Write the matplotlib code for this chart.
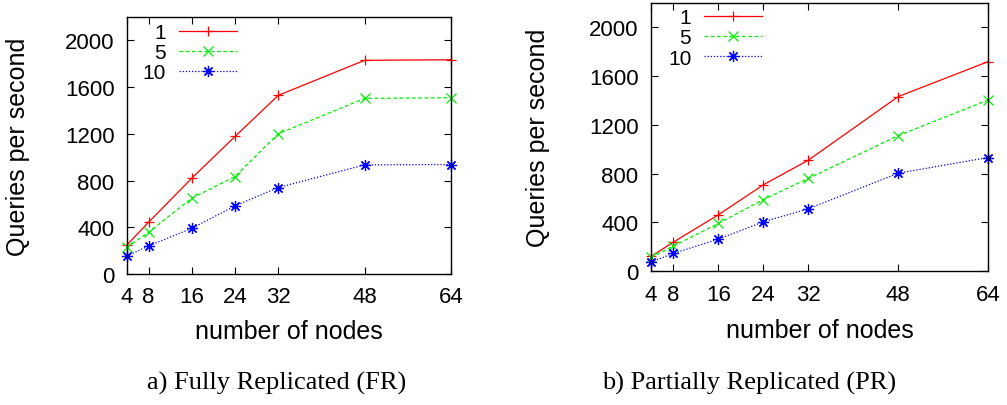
import matplotlib
matplotlib.use("Agg")
import matplotlib.pyplot as plt

# data
nodes = [4, 8, 16, 24, 32, 48, 64]
xtick_labels = ["4", "8", "16", "24", "32", "48", "64"]
yticks = [0, 400, 800, 1200, 1600, 2000]
series_labels = ["1", "5", "10"]

# a) Fully Replicated (FR)
fr_1 = [249, 443, 820, 1177, 1529, 1829, 1834]
fr_5 = [229, 357, 649, 834, 1200, 1503, 1509]
fr_10 = [154, 240, 391, 583, 740, 934, 937]

# b) Partially Replicated (PR)
pr_1 = [120, 238, 462, 708, 910, 1432, 1719]
pr_5 = [112, 205, 391, 587, 760, 1112, 1404]
pr_10 = [74, 145, 262, 404, 511, 803, 932]

captions = ["a) Fully Replicated (FR)", "b) Partially Replicated (PR)"]

plt.rcParams['font.family'] = ['Liberation Sans', 'DejaVu Sans']

# gnuplot-like line types
styles = [
    dict(color='#ff0000', linestyle='-', marker='+', markersize=7),
    dict(color='#00f000', linestyle=(0, (3, 2)), marker='x', markersize=6.5),
    dict(color='#0000ff', linestyle=(0, (1, 1.5)), marker=(8, 2, 0), markersize=8),
]

fig = plt.figure(figsize=(10.07, 4.06), dpi=100)
ax_fr = fig.add_axes([0.1261, 0.3227, 0.3218, 0.6330])
ax_pr = fig.add_axes([0.6465, 0.3300, 0.3347, 0.6600])


def draw_panel(ax, data, leg_x, leg_y):
    for vals, lab, st in zip(data, series_labels, styles):
        ax.plot(nodes, vals, label=lab, linewidth=0.9,
                markeredgewidth=0.9, clip_on=False, **st)
    ax.set_xlim(4, 64)
    ax.set_ylim(0, 2200)
    ax.set_xticks(nodes)
    ax.set_xticklabels(xtick_labels)
    ax.set_yticks(yticks)
    ax.tick_params(direction='in', length=5, width=0.8, top=True, right=True,
                   labelsize=16)
    ax.tick_params(axis='x', pad=9)
    ax.tick_params(axis='y', pad=9)
    for sp in ax.spines.values():
        sp.set_linewidth(1.0)
    ax.set_xlabel("number of nodes", fontsize=18)
    ax.set_ylabel("Queries per second", fontsize=18)
    ax.xaxis.set_label_coords(0.5, -0.175)
    ax.yaxis.set_label_coords(-0.30, 0.5)
    ax.legend(loc='upper left', bbox_to_anchor=(leg_x, leg_y), frameon=False,
              markerfirst=False, fontsize=15, handlelength=2.8,
              handletextpad=0.6, labelspacing=0.05, borderpad=0,
              borderaxespad=0)


draw_panel(ax_fr, [fr_1, fr_5, fr_10], 0.049, 0.977)
draw_panel(ax_pr, [pr_1, pr_5, pr_10], 0.050, 0.980)

fig.text(277 / 1007, 1 - 383 / 406, captions[0], ha='center', va='center',
         fontsize=19, family='Liberation Serif')
fig.text(749 / 1007, 1 - 383 / 406, captions[1], ha='center', va='center',
         fontsize=19, family='Liberation Serif')

fig.savefig("out.png", dpi=100)
plt.close(fig)
